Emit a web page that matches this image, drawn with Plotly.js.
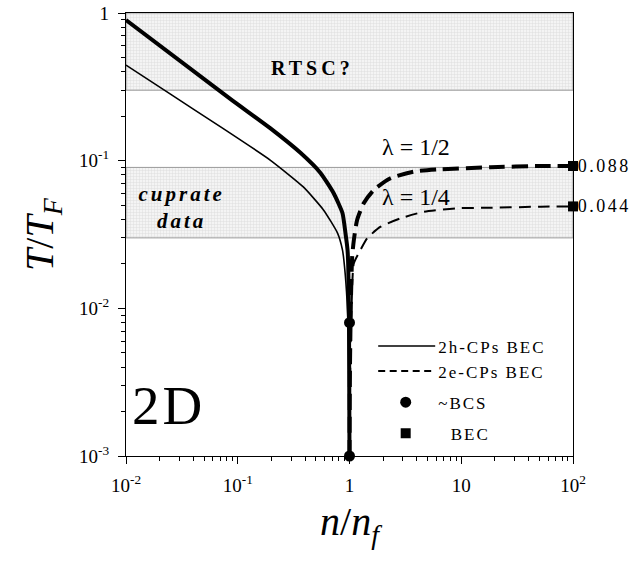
<!DOCTYPE html>
<html>
<head>
<meta charset="utf-8">
<script src="https://cdn.plot.ly/plotly-3.0.1.min.js"></script>
<style>
body{margin:0;background:#fff}
#chart{width:639px;height:562px}
.legendtext{letter-spacing:2px}
g.annotation[data-index="0"] text{letter-spacing:4px}
g.annotation[data-index="1"] text{letter-spacing:3px}
g.annotation[data-index="4"] text,g.annotation[data-index="5"] text{letter-spacing:2.5px}
g.annotation[data-index="6"] text{letter-spacing:3px}
</style>
</head>
<body>
<div id="chart"></div>
<script>
// ---- data ----
// 2h-CP BEC curves (solid): lambda = 1/2 (thick), lambda = 1/4 (thin)
var holeHalfX = [0.01, 0.0857, 0.195, 0.364, 0.55, 0.72, 0.865, 0.92, 0.96, 0.975, 0.99, 1.0];
var holeHalfY = [0.897, 0.262, 0.166, 0.113, 0.0826, 0.0604, 0.0442, 0.0324, 0.0249, 0.019, 0.008, 0.001];
var holeQuarterX = [0.01, 0.0248, 0.0697, 0.195, 0.386, 0.585, 0.78, 0.865, 0.89, 0.94, 0.98, 1.0];
var holeQuarterY = [0.444, 0.283, 0.170, 0.101, 0.0664, 0.0464, 0.0324, 0.0249, 0.0213, 0.013, 0.006, 0.001];
// 2e-CP BEC curves (dashed)
var elecHalfX = [1.0, 1.01, 1.03, 1.057, 1.094, 1.17, 1.34, 1.65, 2.33, 3.77, 6.55, 18.4, 51.6, 100];
var elecHalfY = [0.001, 0.004, 0.0114, 0.0224, 0.029, 0.0397, 0.0515, 0.0633, 0.076, 0.0843, 0.0874, 0.0902, 0.092, 0.092];
var elecQuarterX = [1.0, 1.02, 1.05, 1.094, 1.256, 1.44, 1.90, 2.87, 4.64, 9.25, 18.4, 51.6, 100];
var elecQuarterY = [0.001, 0.005, 0.012, 0.0202, 0.0249, 0.0298, 0.0357, 0.0407, 0.0451, 0.0476, 0.048, 0.0488, 0.049];
// markers
var bcsX = [1, 1];
var bcsY = [0.008, 0.001];
var becX = [100, 100];
var becY = [0.092, 0.049];
var becLabels = ['0.088', '0.044'];
// shaded regions
var xSpan = [0.01, 100];
var bandRTSC = [0.3, 1];
var bandCuprate = [0.03, 0.09];
// ticks
var xTickVals = [0.01, 0.1, 1, 10, 100];
var xTickText = ['10<sup>-2</sup>', '10<sup>-1</sup>', '1', '10', '10<sup>2</sup>'];
var yTickVals = [0.001, 0.01, 0.1, 1];
var yTickText = ['10<sup>-3</sup>', '10<sup>-2</sup>', '10<sup>-1</sup>', '1'];

function band(b) {
  return {
    x: [xSpan[0], xSpan[1], xSpan[1], xSpan[0], xSpan[0]],
    y: [b[0], b[0], b[1], b[1], b[0]],
    mode: 'lines', fill: 'toself', showlegend: false, hoverinfo: 'skip',
    fillcolor: '#efefef',
    fillpattern: {shape: '+', size: 3, solidity: 0.25, fgcolor: '#d8d8d8', bgcolor: '#f4f4f4'},
    line: {color: '#9a9a9a', width: 1}
  };
}

var SERIF = 'Liberation Serif, Times New Roman, serif';
var traces = [
  band(bandRTSC), band(bandCuprate),
  {x: holeHalfX, y: holeHalfY, mode: 'lines', line: {color: '#000', width: 4, shape: 'spline', smoothing: 0.5}, showlegend: false},
  {x: holeQuarterX, y: holeQuarterY, mode: 'lines', line: {color: '#000', width: 1.6, shape: 'spline', smoothing: 0.5}, name: '2h-CPs BEC', legendgroup: 'a'},
  {x: elecHalfX, y: elecHalfY, mode: 'lines', line: {color: '#000', width: 4, dash: '16px,7px', shape: 'spline', smoothing: 0.6}, showlegend: false},
  {x: elecQuarterX, y: elecQuarterY, mode: 'lines', line: {color: '#000', width: 2, dash: '12px,7px', shape: 'spline', smoothing: 0.6}, name: '2e-CPs BEC', legendgroup: 'a'},
  {x: bcsX, y: bcsY, mode: 'markers', marker: {symbol: 'circle', size: 11, color: '#000'}, name: '~BCS', legendgroup: 'b', cliponaxis: false},
  {x: becX, y: becY, mode: 'markers', marker: {symbol: 'square', size: 10, color: '#000'}, name: '  BEC', legendgroup: 'c', cliponaxis: false}
];

function note(x, y, text, size) {
  return {xref: 'paper', yref: 'paper', x: x, y: y, xanchor: 'center', yanchor: 'middle',
          text: text, showarrow: false, font: {family: SERIF, size: size, color: '#000'}};
}
var annotations = [
  note(0.418, 0.876, '<b>RTSC?</b>', 20),
  note(0.124, 0.562, '<b><i>cuprate</i></b><br><b><i>data</i></b>', 21),
  note(0.649, 0.698, 'λ = 1/2', 24),
  note(0.649, 0.585, 'λ = 1/4', 24),
  {x: Math.log10(becX[0]), y: Math.log10(becY[0]), text: becLabels[0], showarrow: false,
   xanchor: 'left', yanchor: 'middle', xshift: 9, font: {family: SERIF, size: 18, color: '#000'}},
  {x: Math.log10(becX[1]), y: Math.log10(becY[1]), text: becLabels[1], showarrow: false,
   xanchor: 'left', yanchor: 'middle', xshift: 9, font: {family: SERIF, size: 18, color: '#000'}},
  note(0.094, 0.113, '2D', 55)
];

var axisCommon = {
  type: 'log', showgrid: false, zeroline: false,
  showline: true, linecolor: '#000', linewidth: 1.3, mirror: true,
  ticks: 'outside', ticklen: 7, tickwidth: 1.2, tickcolor: '#000',
  tickmode: 'array',
  minor: {ticks: 'outside', ticklen: 4, tickwidth: 1, tickcolor: '#000', dtick: 'D1', showgrid: false},
  tickfont: {family: SERIF, size: 19, color: '#000'}
};

var layout = {
  width: 639, height: 562,
  margin: {l: 126, r: 66, t: 13, b: 106},
  showlegend: true,
  legend: {x: 0.553, y: 0.288, xanchor: 'left', yanchor: 'top', bgcolor: 'rgba(0,0,0,0)',
           font: {family: SERIF, size: 17, color: '#000'}, itemwidth: 55, tracegroupgap: 6,
           traceorder: 'grouped'},
  xaxis: Object.assign({}, axisCommon, {
    range: [-2, 2], tickvals: xTickVals, ticktext: xTickText, ticklabelstandoff: 5,
    title: {text: '<i>n</i>/<i>n<sub>f</sub></i>', font: {family: SERIF, size: 40, color: '#000'}, standoff: 12}
  }),
  yaxis: Object.assign({}, axisCommon, {
    range: [-3, 0], tickvals: yTickVals, ticktext: yTickText, ticklabelstandoff: 5,
    title: {text: '<i>T</i>/<i>T<sub>F</sub></i>', font: {family: SERIF, size: 40, color: '#000'}, standoff: 12}
  }),
  annotations: annotations
};

Plotly.newPlot('chart', traces, layout, {displayModeBar: false}).then(function () {
  // lengthen the legend line samples to match the reference key
  var items = document.querySelectorAll('.legend .traces');
  items.forEach(function (g, i) {
    var p = g.querySelector('.legendlines path.js-line');
    if (p) {
      p.setAttribute('d', 'M5,0h57');
      if (i === 1) p.style.strokeDasharray = '7px,4.5px';
    }
  });
});
</script>
</body>
</html>
